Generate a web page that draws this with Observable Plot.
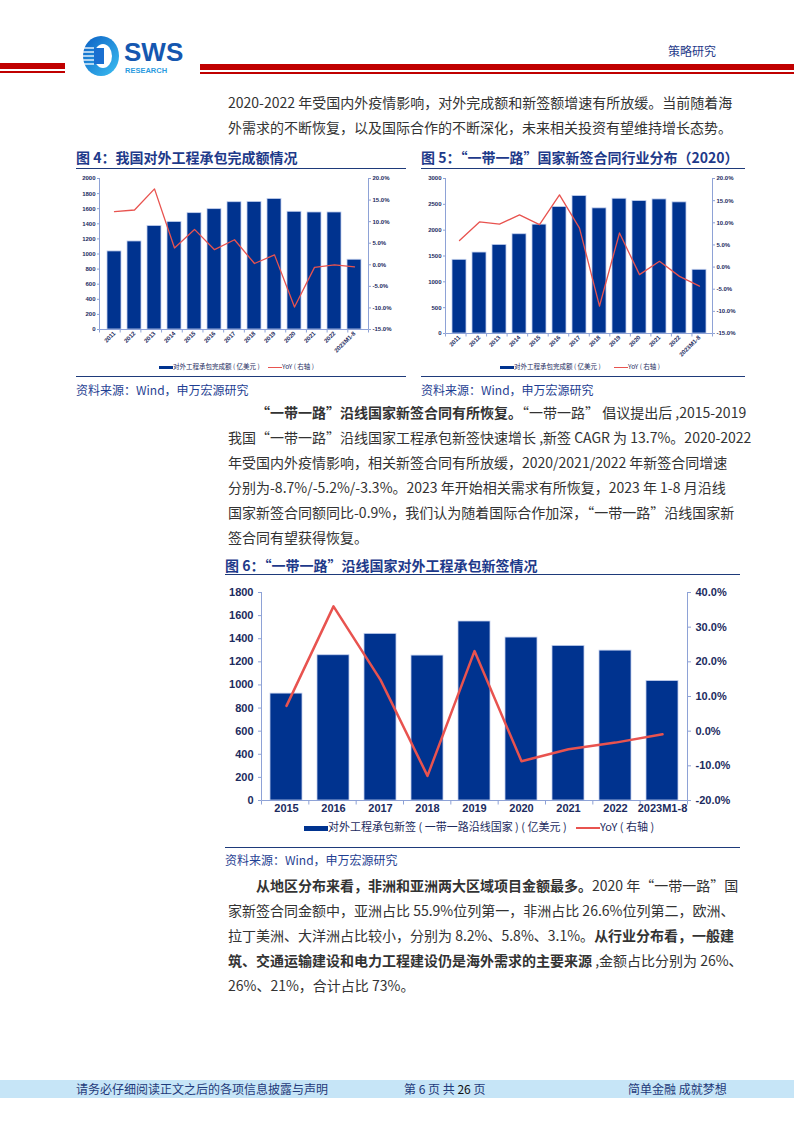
<!DOCTYPE html>
<html>
<head>
<meta charset="utf-8">
<script src="https://cdn.jsdelivr.net/npm/d3@7"></script>
<script src="https://cdn.jsdelivr.net/npm/@observablehq/plot@0.6"></script>
<style>
  html, body { margin: 0; padding: 0; background: #fff; }
  #page { position: relative; width: 794px; height: 1123px; overflow: hidden; font-family: "Noto Sans CJK SC", "Noto Sans", sans-serif; }
  .abs { position: absolute; white-space: nowrap; }
  .line { position: absolute; left: 228px; width: 490px; height: 25px; line-height: 25px; font-size: 14px; color: #333; white-space: nowrap; }
  .just { text-align: justify; text-align-last: justify; }
  .title { position: absolute; font-size: 14px; font-weight: bold; color: #1e3a8a; white-space: nowrap; }
  .rule { position: absolute; height: 0; border-top: 1.5px solid #1e3a7a; }
  .src { position: absolute; font-size: 12px; color: #1f3f93; white-space: nowrap; }
  .leg { position: absolute; white-space: nowrap; color: #1c2b5e; font-family: "Noto Sans CJK SC", sans-serif; }
  .sw { display: inline-block; vertical-align: middle; }
  .chart { position: absolute; }
</style>
</head>
<body>
<div id="page">
  <!-- header -->
  <div class="abs" style="left:0;top:63px;width:65px;height:6px;background:#c00000"></div>
  <div class="abs" style="left:0;top:71px;width:65px;height:2px;background:#c00000"></div>
  <div class="abs" style="left:200px;top:64px;width:594px;height:6px;background:#c00000"></div>
  <div class="abs" style="left:200px;top:72px;width:594px;height:2px;background:#c00000"></div>
  <svg class="abs" style="left:82px;top:34px" width="110" height="44">
    <defs>
      <linearGradient id="lg" x1="0" x2="1" y1="0" y2="1">
        <stop offset="0" stop-color="#0b5fc4"/><stop offset="1" stop-color="#3cc0f2"/>
      </linearGradient>
    </defs>
    <ellipse cx="19" cy="22" rx="18" ry="20" fill="url(#lg)"/>
    <ellipse cx="21" cy="22" rx="9" ry="12" fill="#fff"/>
    <rect x="12" y="14" width="10" height="16" fill="#1a6fd0"/>
    <g stroke="#fff" stroke-width="1.3">
      <line x1="1" y1="14" x2="12" y2="14"/><line x1="1" y1="18" x2="12" y2="18"/>
      <line x1="1" y1="22" x2="12" y2="22"/><line x1="1" y1="26" x2="12" y2="26"/>
      <line x1="1" y1="30" x2="12" y2="30"/>
    </g>
    <text x="42" y="27" font-family="Liberation Sans, Arial" font-weight="bold" font-size="26" fill="#1557b0">SWS</text>
    <text x="43" y="39" font-family="Liberation Sans, Arial" font-weight="bold" font-size="7.5" fill="#2a9be0">RESEARCH</text>
  </svg>
  <div class="abs" style="left:668px;top:42px;font-size:12px;color:#1f3a8a">策略研究</div>

  <!-- paragraph 1 -->
  <div class="line just" style="top:90px">2020-2022 年受国内外疫情影响，对外完成额和新签额增速有所放缓。当前随着海</div>
  <div class="line just" style="top:115px">外需求的不断恢复，以及国际合作的不断深化，未来相关投资有望维持增长态势。</div>

  <!-- chart 4 -->
  <div class="title" style="left:76px;top:147px">图 4：我国对外工程承包完成额情况</div>
  <div class="rule" style="left:76px;top:168px;width:330px"></div>
  <div class="chart" id="c4" style="left:70px;top:170px"></div>
  <div class="leg" style="left:159px;top:361px;font-size:6.5px"><span class="sw" style="width:14px;height:3px;background:#00338f"></span>对外工程承包完成额 ( 亿美元 )</div>
  <div class="leg" style="left:268px;top:361px;font-size:6.5px"><span class="sw" style="width:14px;height:1.2px;background:#e8534f"></span>YoY ( 右轴 )</div>
  <div class="rule" style="left:76px;top:376px;width:330px;border-top-width:1px"></div>
  <div class="src" style="left:76px;top:381px">资料来源：Wind，申万宏源研究</div>

  <!-- chart 5 -->
  <div class="title" style="left:421px;top:147px">图 5：“一带一路”国家新签合同行业分布（2020）</div>
  <div class="rule" style="left:421px;top:168px;width:324px"></div>
  <div class="chart" id="c5" style="left:410px;top:170px"></div>
  <div class="leg" style="left:500px;top:361px;font-size:6.5px"><span class="sw" style="width:14px;height:3px;background:#00338f"></span>对外工程承包完成额 ( 亿美元 )</div>
  <div class="leg" style="left:614px;top:361px;font-size:6.5px"><span class="sw" style="width:14px;height:1.2px;background:#e8534f"></span>YoY ( 右轴 )</div>
  <div class="rule" style="left:421px;top:376px;width:324px;border-top-width:1px"></div>
  <div class="src" style="left:421px;top:381px">资料来源：Wind，申万宏源研究</div>

  <!-- paragraph 2 -->
  <div class="line just" style="top:400px;left:256px;width:462px"><b>“一带一路”沿线国家新签合同有所恢复。</b>“一带一路” 倡议提出后 ,2015-2019</div>
  <div class="line just" style="top:425px">我国“一带一路”沿线国家工程承包新签快速增长 ,新签 CAGR 为 13.7%。2020-2022</div>
  <div class="line just" style="top:450px">年受国内外疫情影响，相关新签合同有所放缓，2020/2021/2022 年新签合同增速</div>
  <div class="line just" style="top:475px">分别为-8.7%/-5.2%/-3.3%。2023 年开始相关需求有所恢复，2023 年 1-8 月沿线</div>
  <div class="line just" style="top:500px">国家新签合同额同比-0.9%，我们认为随着国际合作加深，“一带一路”沿线国家新</div>
  <div class="line" style="top:525px">签合同有望获得恢复。</div>

  <!-- chart 6 -->
  <div class="title" style="left:225px;top:555px">图 6：“一带一路”沿线国家对外工程承包新签情况</div>
  <div class="rule" style="left:225px;top:574px;width:515px"></div>
  <div class="chart" id="c6" style="left:220px;top:582px"></div>
  <div class="leg" style="left:304px;top:818px;font-size:11px"><span class="sw" style="width:24px;height:5px;background:#00338f"></span>对外工程承包新签 ( 一带一路沿线国家 ) ( 亿美元 )</div>
  <div class="leg" style="left:576px;top:818px;font-size:11px"><span class="sw" style="width:24px;height:2.5px;background:#e8534f"></span>YoY ( 右轴 )</div>
  <div class="rule" style="left:225px;top:847px;width:515px;border-top-width:1px"></div>
  <div class="src" style="left:225px;top:851px">资料来源：Wind，申万宏源研究</div>

  <!-- paragraph 3 -->
  <div class="line just" style="top:873px;left:256px;width:462px"><b>从地区分布来看，非洲和亚洲两大区域项目金额最多。</b>2020 年“一带一路”国</div>
  <div class="line just" style="top:898px">家新签合同金额中，亚洲占比 55.9%位列第一，非洲占比 26.6%位列第二，欧洲、</div>
  <div class="line just" style="top:923px">拉丁美洲、大洋洲占比较小，分别为 8.2%、5.8%、3.1%。<b>从行业分布看，一般建</b></div>
  <div class="line just" style="top:948px"><b>筑、交通运输建设和电力工程建设仍是海外需求的主要来源</b> ,金额占比分别为 26%、</div>
  <div class="line" style="top:973px">26%、21%，合计占比 73%。</div>

  <!-- footer -->
  <div class="abs" style="left:0;top:1080px;width:794px;height:18px;background:#c6e5f7"></div>
  <div class="abs" style="left:76px;top:1080px;font-size:12px;line-height:18px;color:#1f3a7a">请务必仔细阅读正文之后的各项信息披露与声明</div>
  <div class="abs" style="left:404px;top:1080px;font-size:12px;line-height:18px;color:#1f3a7a">第 6 页 共 <span style="color:#111">26</span> 页</div>
  <div class="abs" style="left:628px;top:1080px;font-size:12px;line-height:18px;color:#1f3a7a">简单金融 成就梦想</div>
</div>

<script>
// ---------- data ----------
const cats4 = ["2011","2012","2013","2014","2015","2016","2017","2018","2019","2020","2021","2022","2023M1-8"];
const vals4 = [1034,1166,1371,1424,1541,1594,1686,1690,1729,1559,1550,1550,924];
const yoy4  = [12.3,12.7,17.6,3.9,8.2,3.5,5.8,0.3,2.3,-9.8,-0.6,0.0,-0.5];
const leftTicks4  = [0,200,400,600,800,1000,1200,1400,1600,1800,2000];
const rightTicks4 = [-15,-10,-5,0,5,10,15,20];

const cats5 = ["2011","2012","2013","2014","2015","2016","2017","2018","2019","2020","2021","2022","2023M1-8"];
const vals5 = [1426,1567,1715,1921,2107,2448,2660,2422,2608,2563,2595,2538,1233];
const yoy5  = [6.0,10.2,9.7,11.8,9.6,16.3,8.8,-8.8,7.7,-1.7,1.3,-2.1,-4.3];
const leftTicks5  = [0,500,1000,1500,2000,2500,3000];
const rightTicks5 = [-15,-10,-5,0,5,10,15,20];

const cats6 = ["2015","2016","2017","2018","2019","2020","2021","2022","2023M1-8"];
const vals6 = [925,1257,1442,1254,1549,1410,1338,1297,1034];
const yoy6  = [7.3,36.0,14.8,-12.9,23.1,-8.7,-5.2,-3.3,-0.9];
const leftTicks6  = [0,200,400,600,800,1000,1200,1400,1600,1800];
const rightTicks6 = [-20,-10,0,10,20,30,40];

const BLUE = "#00338f", RED = "#e8534f", AXIS = "#8ea2d6", TXT = "#1c2b5e";

function dualChart(o) {
  const [l0, l1] = [o.lTicks[0], o.lTicks[o.lTicks.length - 1]];
  const [r0, r1] = [o.rTicks[0], o.rTicks[o.rTicks.length - 1]];
  const toL = v => l0 + (v - r0) / (r1 - r0) * (l1 - l0);
  const toR = v => r0 + (v - l0) / (l1 - l0) * (r1 - r0);
  const fmtR = v => { const r = Math.round(toR(v) * 10) / 10; return (r === 0 ? 0 : r).toFixed(1) + "%"; };
  const data = o.cats.map((c, i) => ({cat: c, val: o.vals[i], yoy: o.yoy[i]}));
  const n = o.cats.length;
  const frameMark = (index, scales, values, dims) => {
    const {width, height, marginLeft: ml, marginRight: mr, marginTop: mt, marginBottom: mb} = dims;
    const g = d3.create("svg:g").attr("stroke", AXIS).attr("stroke-width", 1).attr("fill", "none");
    const xl = ml + 0.5, xr = width - mr + 0.5, yb = height - mb + 0.5;
    g.append("line").attr("x1", xl).attr("x2", xl).attr("y1", mt).attr("y2", yb);
    g.append("line").attr("x1", xr).attr("x2", xr).attr("y1", mt).attr("y2", yb);
    g.append("line").attr("x1", xl).attr("x2", xr).attr("y1", yb).attr("y2", yb);
    const step = (width - ml - mr) / n;
    for (let i = 0; i <= n; i++) {
      const x = ml + i * step + 0.5;
      g.append("line").attr("x1", x).attr("x2", x).attr("y1", yb).attr("y2", yb + o.xTick);
    }
    return g.node();
  };
  return Plot.plot({
    width: o.width, height: o.height,
    marginLeft: o.ml, marginRight: o.mr, marginTop: o.mt, marginBottom: o.mb,
    style: {background: "transparent", overflow: "visible", fontFamily: "Liberation Sans, Arial, sans-serif", fontSize: o.fs + "px", fontWeight: o.fw, color: TXT},
    x: {domain: o.cats, paddingInner: 0.32, paddingOuter: 0.16, axis: null, label: null},
    y: {domain: [l0, l1], axis: null, label: null},
    marks: [
      Plot.barY(data, {x: "cat", y: "val", fill: BLUE, stroke: "#c3d0ee", strokeWidth: 0.8}),
      Plot.lineY(data, {x: "cat", y: d => toL(d.yoy), stroke: RED, strokeWidth: o.lw, curve: "linear"}),
      frameMark,
      Plot.axisY(o.lTicks, {anchor: "left", label: null, tickSize: o.yTick, tickPadding: o.tp, stroke: AXIS, fill: TXT, tickFormat: d => String(d)}),
      Plot.axisY(o.rTicks.map(toL), {anchor: "right", label: null, tickSize: o.yTick, tickPadding: o.tp, stroke: AXIS, fill: TXT, tickFormat: fmtR}),
      Plot.axisX(o.rotate
        ? {label: null, tickSize: 0, tickPadding: o.xPad, tickRotate: -45, fill: TXT}
        : {label: null, tickSize: 0, tickPadding: o.xPad, fill: TXT})
    ]
  });
}

document.getElementById("c4").append(dualChart({
  cats: cats4, vals: vals4, yoy: yoy4, lTicks: leftTicks4, rTicks: rightTicks4,
  width: 340, height: 192, ml: 29, mr: 42, mt: 8, mb: 33,
  fs: 6, fw: "bold", lw: 1.3, yTick: 2, xTick: 3, tp: 2, xPad: 3, rotate: true
}));
document.getElementById("c5").append(dualChart({
  cats: cats5, vals: vals5, yoy: yoy5, lTicks: leftTicks5, rTicks: rightTicks5,
  width: 340, height: 192, ml: 35, mr: 38, mt: 8, mb: 29,
  fs: 6, fw: "bold", lw: 1.3, yTick: 2, xTick: 3, tp: 2, xPad: 3, rotate: true
}));
document.getElementById("c6").append(dualChart({
  cats: cats6, vals: vals6, yoy: yoy6, lTicks: leftTicks6, rTicks: rightTicks6,
  width: 520, height: 238, ml: 41, mr: 53, mt: 10, mb: 20,
  fs: 11, fw: "bold", lw: 2.5, yTick: 3, xTick: 4, tp: 5, xPad: 4, rotate: false
}));
</script>
</body>
</html>
